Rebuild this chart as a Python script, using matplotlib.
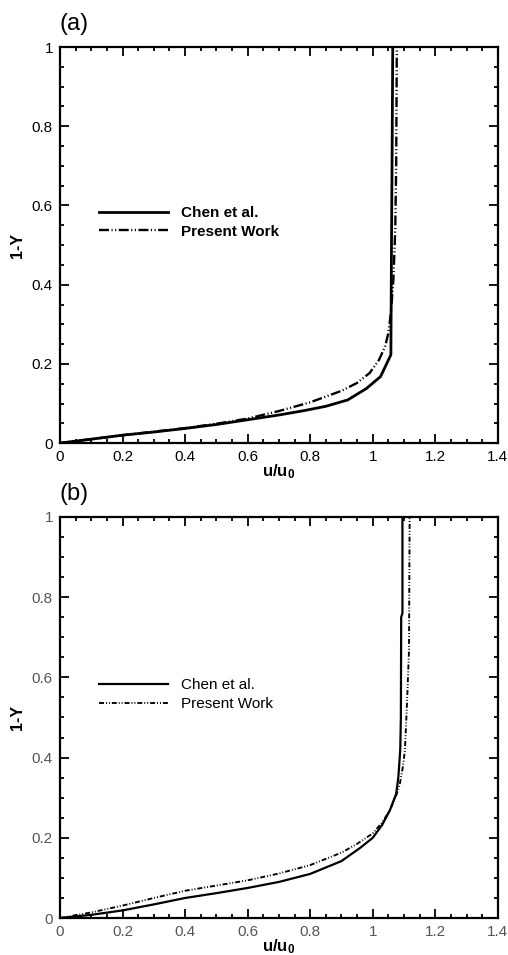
import matplotlib
matplotlib.use("Agg")
import matplotlib.pyplot as plt
from matplotlib.ticker import MultipleLocator, FuncFormatter

plt.rcParams['font.family'] = ['Liberation Sans', 'DejaVu Sans']
plt.rcParams['mathtext.fontset'] = 'custom'
plt.rcParams['mathtext.rm'] = 'Liberation Sans'
plt.rcParams['mathtext.bf'] = 'Liberation Sans:bold'
plt.rcParams['lines.scale_dashes'] = False

# panel (a) velocity profiles
a_chen_u = [0, 0.1, 0.2, 0.3, 0.4, 0.5, 0.6, 0.7, 0.78, 0.85, 0.92, 0.98, 1.025, 1.058, 1.06, 1.062, 1.064]
a_chen_y = [0, 0.01, 0.02, 0.028, 0.037, 0.047, 0.059, 0.071, 0.082, 0.093, 0.109, 0.138, 0.168, 0.223, 0.5, 0.73, 1.0]
a_pres_u = [0, 0.1, 0.2, 0.3, 0.4, 0.5, 0.6, 0.7, 0.8, 0.9, 0.95, 0.99, 1.02, 1.04, 1.05, 1.058, 1.066, 1.072, 1.075, 1.077]
a_pres_y = [0, 0.01, 0.02, 0.029, 0.038, 0.049, 0.062, 0.081, 0.103, 0.132, 0.152, 0.177, 0.21, 0.245, 0.278, 0.328, 0.412, 0.54, 0.7, 1.0]

# panel (b) velocity profiles
b_chen_u = [0, 0.1, 0.2, 0.3, 0.4, 0.5, 0.6, 0.7, 0.8, 0.9, 0.96, 1.0, 1.03, 1.055, 1.075, 1.082, 1.088, 1.09, 1.091, 1.095, 1.095]
b_chen_y = [0, 0.008, 0.019, 0.034, 0.05, 0.062, 0.075, 0.09, 0.11, 0.142, 0.175, 0.2, 0.232, 0.269, 0.31, 0.352, 0.42, 0.5, 0.75, 0.76, 1.0]
b_pres_u = [0, 0.1, 0.2, 0.3, 0.4, 0.5, 0.6, 0.7, 0.8, 0.9, 0.95, 1.0, 1.03, 1.055, 1.075, 1.087, 1.097, 1.103, 1.11, 1.116, 1.118]
b_pres_y = [0, 0.014, 0.031, 0.05, 0.068, 0.081, 0.094, 0.111, 0.132, 0.163, 0.185, 0.211, 0.238, 0.269, 0.305, 0.336, 0.38, 0.419, 0.544, 0.668, 1.0]

labels = ['Chen et al.', 'Present Work']
panel_names = ['(a)', '(b)']

fig = plt.figure(figsize=(5.08, 9.55), dpi=100)
ax_a = fig.add_axes([0.118, 0.536, 0.862, 0.4147])
ax_b = fig.add_axes([0.118, 0.0387, 0.862, 0.42])

fmt = FuncFormatter(lambda v, p: '%g' % round(v, 2))

panels = [
    (ax_a, a_chen_u, a_chen_y, a_pres_u, a_pres_y, 2.0, (7.2, 1.8, 0.8, 1.8, 0.8, 1.8), 'bold', 'black'),
    (ax_b, b_chen_u, b_chen_y, b_pres_u, b_pres_y, 1.6, (3.6, 1.4, 0.7, 1.4, 0.7, 1.4), 'normal', '#555555'),
]

for i, (ax, cu, cy, pu, py, lw, dash, wt, tcol) in enumerate(panels):
    ax.plot(cu, cy, color='black', lw=lw, label=labels[0])
    ax.plot(pu, py, color='black', lw=lw * 0.85, dashes=dash, label=labels[1])

    ax.set_xlim(0, 1.4)
    ax.set_ylim(0, 1)
    ax.xaxis.set_major_locator(MultipleLocator(0.2))
    ax.xaxis.set_minor_locator(MultipleLocator(0.05))
    ax.yaxis.set_major_locator(MultipleLocator(0.2))
    ax.yaxis.set_minor_locator(MultipleLocator(0.05))
    ax.xaxis.set_major_formatter(fmt)
    ax.yaxis.set_major_formatter(fmt)
    ax.tick_params(which='both', direction='in', top=True, right=True, width=1.3)
    ax.tick_params(which='major', length=6.5, labelsize=11, pad=5, labelcolor=tcol)
    ax.tick_params(which='minor', length=3.2)
    for sp in ax.spines.values():
        sp.set_linewidth(1.6)

    ax.set_xlabel(r'$\mathbf{u/u_0}$', fontsize=12, labelpad=-1.5)
    ax.set_ylabel('1-Y', fontsize=11.5, fontweight='bold', labelpad=5)
    ax.text(0.0, 1.058, panel_names[i], transform=ax.transAxes, fontsize=17,
            ha='left', va='center')

    leg = ax.legend(loc='center left', bbox_to_anchor=(0.089, 0.557), frameon=False,
                    handlelength=4.5, handletextpad=0.85, labelspacing=0.3,
                    borderpad=0, borderaxespad=0,
                    prop={'weight': wt, 'size': 11})

fig.savefig('out.png', dpi=100)
